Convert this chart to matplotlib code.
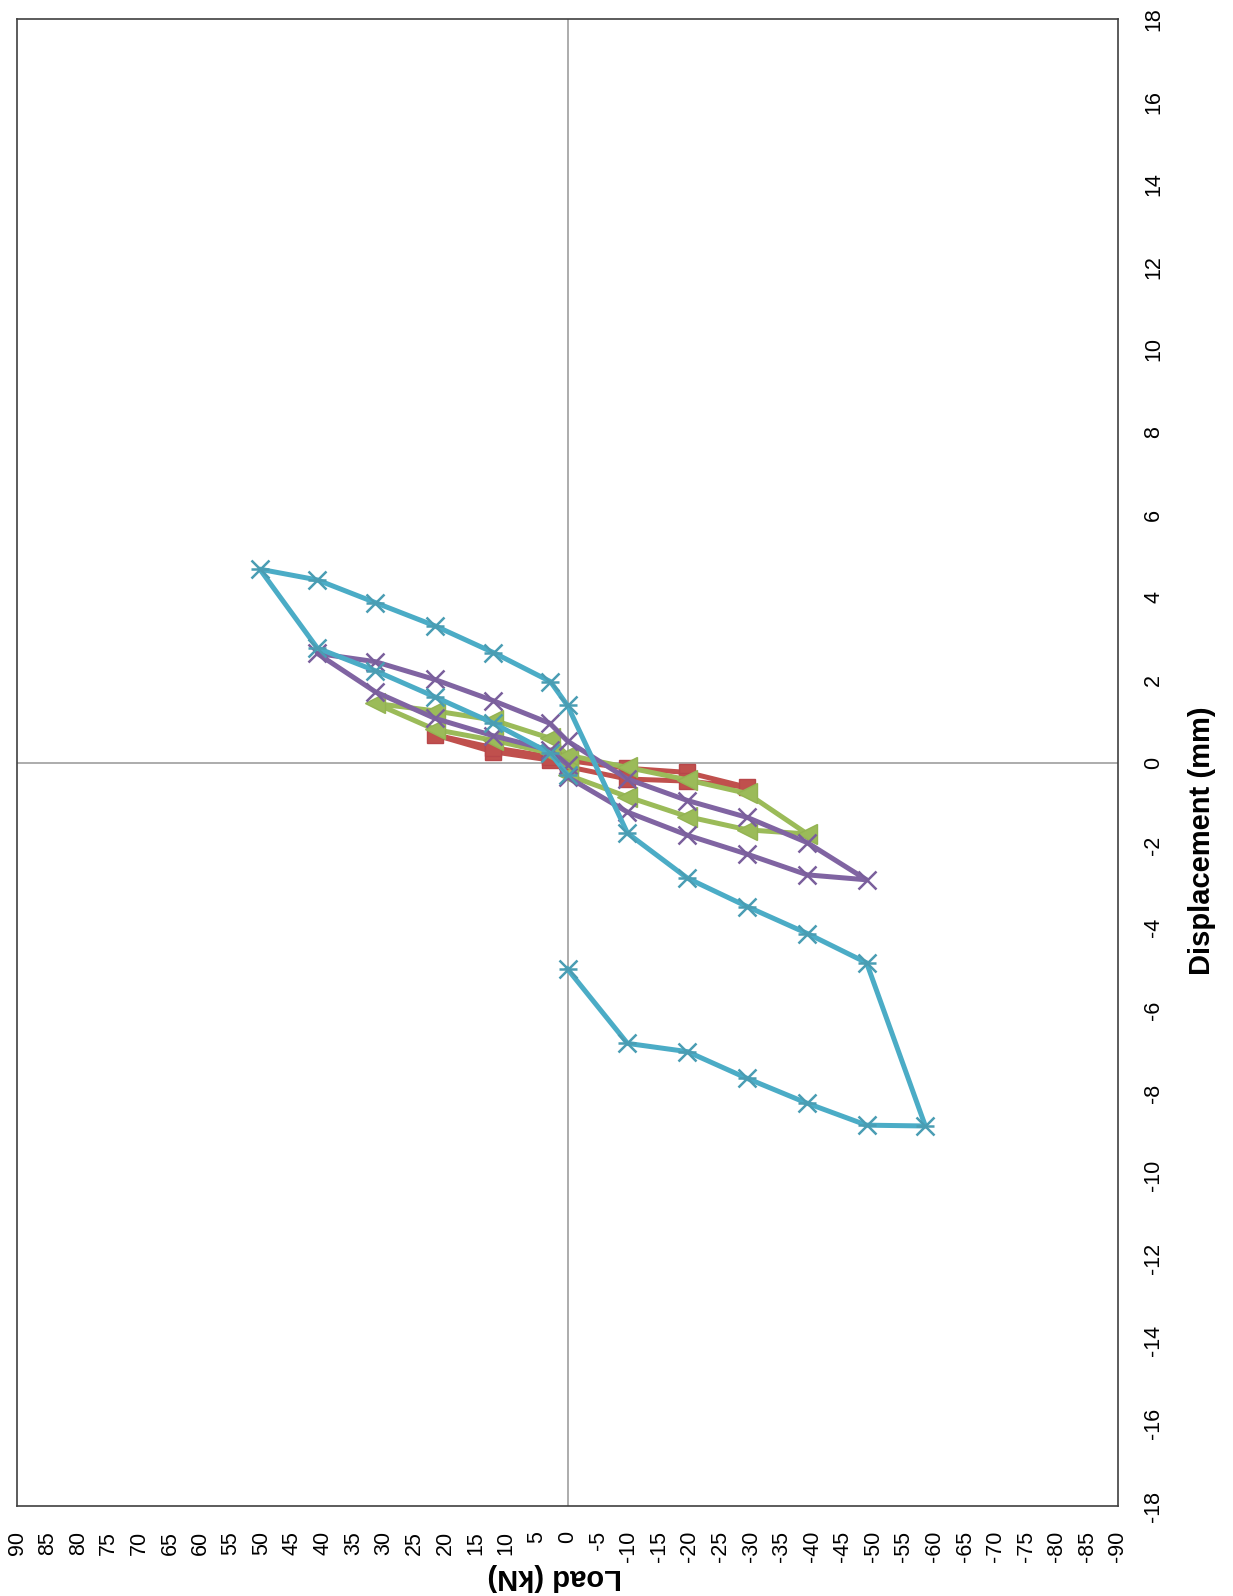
import matplotlib
matplotlib.use("Agg")
import matplotlib.pyplot as plt
import numpy as np

plt.rcParams["font.family"] = ["Liberation Sans", "DejaVu Sans"]

# load (kN) / displacement (mm) pairs for each test cycle, in loading order
red_load = [0, 2.9, 12.2, 21.7, 12.2, 2.9, 0, -9.8, -19.6, -29.4, -19.6, -9.8, 0]
red_disp = [0.0, 0.06, 0.26, 0.67, 0.36, 0.14, 0.05, -0.14, -0.24, -0.60, -0.45, -0.40, -0.10]

green_load = [0, 2.9, 12.2, 21.7, 31.4, 21.7, 12.2, 2.9, 0,
              -9.8, -19.6, -29.4, -39.2, -29.4, -19.6, -9.8, 0]
green_disp = [0.0, 0.23, 0.54, 0.80, 1.43, 1.25, 1.03, 0.59, 0.18,
              -0.12, -0.42, -0.75, -1.73, -1.63, -1.31, -0.83, -0.30]

purple_load = [0, 2.9, 12.2, 21.7, 31.4, 40.9, 31.4, 21.7, 12.2, 2.9, 0,
               -9.8, -19.6, -29.4, -39.2, -48.9, -39.2, -29.4, -19.6, -9.8, 0]
purple_disp = [-0.05, 0.30, 0.65, 1.07, 1.71, 2.64, 2.44, 2.01, 1.50, 0.95, 0.52,
               -0.40, -0.92, -1.33, -1.94, -2.84, -2.72, -2.22, -1.76, -1.20, -0.35]

teal_load = [0, 2.8, 12.1, 21.7, 31.4, 40.9, 50.3, 40.9, 31.4, 21.7, 12.1, 2.8, 0,
             -9.8, -19.6, -29.4, -39.2, -48.9, -58.5, -48.9, -39.2, -29.4, -19.6, -9.8, 0]
teal_disp = [-0.30, 0.22, 0.95, 1.59, 2.22, 2.77, 4.68, 4.42, 3.87, 3.31, 2.66, 1.96, 1.38,
             -1.71, -2.80, -3.49, -4.14, -4.85, -8.80, -8.78, -8.25, -7.65, -7.00, -6.80, -5.00]

load_ticks = list(range(-90, 91, 5))
disp_ticks = list(range(-18, 19, 2))

W, H = 1233, 1596
fig = plt.figure(figsize=(W / 100, H / 100), dpi=100)
# chart is laid on its side: load runs right-to-left, displacement bottom-to-top
L, R, T, B = 17, 1118, 19, 1506
ax = fig.add_axes([L / W, 1 - B / H, (R - L) / W, (B - T) / H])

ax.axvline(0, color="#a6a6a6", lw=1.3, zorder=1)
ax.axhline(0, color="#a6a6a6", lw=1.3, zorder=1)

ax.plot(red_load, red_disp, color="#C0504D", lw=3.6, marker="s", ms=11,
        mfc="#C0504D", mec="#B8474A", zorder=3)
ax.plot(green_load, green_disp, color="#9BBB59", lw=3.6, marker="<", ms=14,
        mfc="#9BBB59", mec="#93B352", zorder=4)
ax.plot(purple_load, purple_disp, color="#8064A2", lw=3.6, marker="x", ms=13,
        mew=1.8, mec="#7A5F9C", zorder=5)
ax.plot(teal_load, teal_disp, color="#4BACC6", lw=3.6, marker="x", ms=13,
        mew=1.8, mec="#4A9DB3", zorder=6)
ax.plot(teal_load, teal_disp, ls="none", marker="_", ms=13, mew=1.8,
        mec="#4A9DB3", zorder=6)

ax.set_xlim(90, -90)
ax.set_ylim(-18, 18)
ax.set_xticks(load_ticks)
ax.set_xticklabels([str(v) for v in load_ticks], rotation=90)
ax.yaxis.tick_right()
ax.set_yticks(disp_ticks)
ax.set_yticklabels([str(v) for v in disp_ticks], rotation=90, va="center")
ax.tick_params(axis="both", length=0, labelsize=15.5, colors="black")
ax.tick_params(axis="x", pad=18)
ax.tick_params(axis="y", pad=18)
for s in ax.spines.values():
    s.set_color("#404040")
    s.set_linewidth(1.2)

fig.text(555 / W, 1 - 1577 / H, "Load (kN)", rotation=180, ha="center",
         va="center", fontsize=21, fontweight="bold")
fig.text(1202 / W, 1 - 841 / H, "Displacement (mm)", rotation=90, ha="center",
         va="center", fontsize=21, fontweight="bold")

fig.savefig("out.png", dpi=100)
